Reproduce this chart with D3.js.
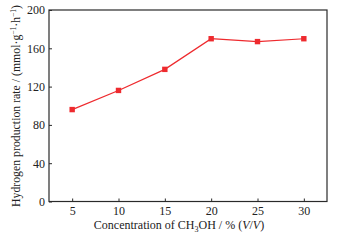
<!DOCTYPE html>
<html><head><meta charset="utf-8">
<script src="https://cdn.jsdelivr.net/npm/d3@7"></script>
<style>body{margin:0;background:#fff}svg{display:block}text{font-family:"Liberation Serif","Times New Roman",serif;fill:#222}</style>
</head><body>
<script>
const concentrations = [5, 10, 15, 20, 25, 30];
const rates = [96, 116, 138, 170, 167, 170];
const xTicks = [5, 10, 15, 20, 25, 30];
const yTicks = [0, 40, 80, 120, 160, 200];

const W = 338, H = 241;
const m = {left: 49, right: 11, top: 10, bottom: 40};
const svg = d3.select("body").append("svg").attr("width", W).attr("height", H);
const x = d3.scaleLinear().domain([2.5, 32.5]).range([m.left, W - m.right]);
const y = d3.scaleLinear().domain([0, 200]).range([H - m.bottom + 0.5, m.top]);

svg.append("rect").attr("x", m.left).attr("y", m.top)
  .attr("width", W - m.right - m.left).attr("height", H - m.bottom + 0.5 - m.top)
  .attr("fill", "none").attr("stroke", "#2a2a2a").attr("stroke-width", 1.2);

const xa = svg.append("g").attr("transform", `translate(0,${H - m.bottom + 0.5})`)
  .call(d3.axisBottom(x).tickValues(xTicks).tickSize(-3).tickPadding(5));
const ya = svg.append("g").attr("transform", `translate(${m.left},0)`)
  .call(d3.axisLeft(y).tickValues(yTicks).tickSize(-3).tickPadding(4));
[xa, ya].forEach(a => {
  a.select(".domain").remove();
  a.selectAll("line").attr("stroke", "#2a2a2a");
  a.selectAll("text").attr("font-size", 12).attr("fill", "#222")
    .attr("font-family", "Liberation Serif");
});

const line = d3.line().x((d, i) => x(concentrations[i])).y(d => y(d));
svg.append("path").datum(rates).attr("d", line).attr("fill", "none")
  .attr("stroke", "#ee2a2e").attr("stroke-width", 1.2);
svg.selectAll("rect.pt").data(rates).enter().append("rect").attr("class", "pt")
  .attr("x", (d, i) => x(concentrations[i]) - 2.7).attr("y", d => y(d) - 2.7)
  .attr("width", 5.4).attr("height", 5.4).attr("fill", "#ee2a2e");

const xl = svg.append("text").attr("x", 179).attr("y", 229).attr("text-anchor", "middle").attr("font-size", 12);
xl.append("tspan").text("Concentration of CH");
xl.append("tspan").text("3").attr("font-size", 8).attr("dy", 3);
xl.append("tspan").text("OH / % (").attr("dy", -3);
xl.append("tspan").text("V").attr("font-style", "italic");
xl.append("tspan").text("/");
xl.append("tspan").text("V").attr("font-style", "italic");
xl.append("tspan").text(")");

const yl = svg.append("text").attr("transform", "translate(20,106) rotate(-90)")
  .attr("text-anchor", "middle").attr("font-size", 11.8);
yl.append("tspan").text("Hydrogen production rate / (mmol·g");
yl.append("tspan").text("−1").attr("font-size", 7.5).attr("dy", -4);
yl.append("tspan").text("·h").attr("dy", 4);
yl.append("tspan").text("−1").attr("font-size", 7.5).attr("dy", -4);
yl.append("tspan").text(")").attr("dy", 4);
</script>
</body></html>
